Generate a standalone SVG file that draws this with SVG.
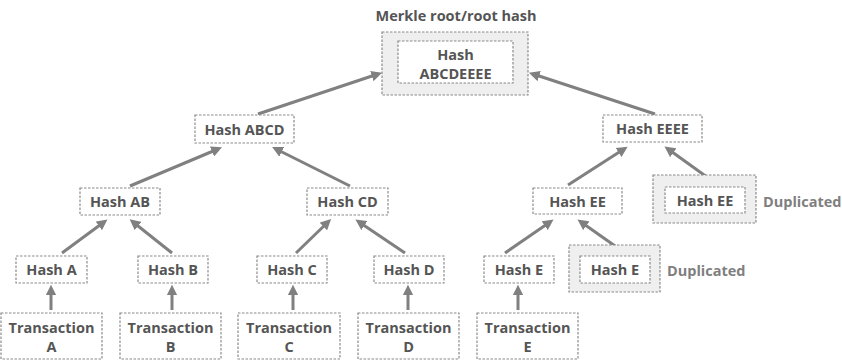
<svg xmlns="http://www.w3.org/2000/svg" width="842" height="364" viewBox="0 0 842 364">
<style>
.b{fill:#fff;stroke:#8a8a8a;stroke-width:1.2;stroke-dasharray:2.5 1.5}
.d{fill:#efefef;stroke:#8a8a8a;stroke-width:1.2;stroke-dasharray:2.5 1.5}
.t{font-family:"Open Sans","DejaVu Sans",sans-serif;font-weight:bold;font-size:14.5px;fill:#555;text-anchor:middle;dominant-baseline:central}
.g{font-family:"Open Sans","DejaVu Sans",sans-serif;font-weight:bold;font-size:14.5px;fill:#7f7f7f;dominant-baseline:central}
.c line{stroke:#808080;stroke-width:3;marker-end:url(#ah)}
</style>
<defs>
<marker id="ah" viewBox="0 0 10 10" refX="6" refY="5" markerWidth="3.6" markerHeight="3.6" orient="auto" markerUnits="strokeWidth">
<path d="M0,0 L10,5 L0,10 Z" fill="#808080"/>
</marker>
</defs>
<text class="t" x="456" y="15">Merkle root/root hash</text>
<g class="c">
<line x1="258" y1="114" x2="378" y2="74"/>
<line x1="655" y1="114" x2="533" y2="74"/>
<line x1="130" y1="186" x2="218" y2="149"/>
<line x1="350" y1="186" x2="276" y2="149"/>
<line x1="62" y1="253" x2="104" y2="222"/>
<line x1="172" y1="253" x2="133" y2="222"/>
<line x1="296" y1="253" x2="328" y2="222"/>
<line x1="405" y1="253" x2="359" y2="222"/>
<line x1="505" y1="253" x2="550" y2="222"/>
<line x1="625" y1="253" x2="581" y2="222"/>
<line x1="568" y1="185" x2="624" y2="149"/>
<line x1="718" y1="185" x2="668" y2="149"/>
<line x1="51" y1="310" x2="51" y2="289"/>
<line x1="172" y1="310" x2="172" y2="289"/>
<line x1="293" y1="310" x2="293" y2="289"/>
<line x1="408" y1="310" x2="408" y2="289"/>
<line x1="518" y1="310" x2="518" y2="289"/>
</g>
<g id="root">
<rect class="d" x="382" y="32" width="146" height="63"/>
<rect class="b" x="398" y="41" width="115" height="42"/>
<text class="t" x="455.5" y="54">Hash</text>
<text class="t" x="455.5" y="73">ABCDEEEE</text>
</g>
<g id="hashABCD"><rect class="b" x="195" y="115" width="99" height="28"/><text class="t" x="244.5" y="129">Hash ABCD</text></g>
<g id="hashEEEE"><rect class="b" x="603" y="115" width="99" height="27"/><text class="t" x="652.5" y="128.5">Hash EEEE</text></g>
<g id="hashAB"><rect class="b" x="80" y="188" width="80" height="27"/><text class="t" x="120" y="201.5">Hash AB</text></g>
<g id="hashCD"><rect class="b" x="307" y="188" width="81" height="27"/><text class="t" x="347.5" y="201.5">Hash CD</text></g>
<g id="hashEE"><rect class="b" x="533" y="188" width="89" height="26"/><text class="t" x="577.5" y="201">Hash EE</text></g>
<g id="hashEEdup">
<rect class="d" x="653" y="175" width="103" height="48"/>
<rect class="b" x="665" y="187" width="80" height="26"/>
<text class="t" x="705" y="200">Hash EE</text>
<text class="g" x="763" y="201">Duplicated</text>
</g>
<g id="hashA"><rect class="b" x="16" y="256" width="71" height="27"/><text class="t" x="51.5" y="269.5">Hash A</text></g>
<g id="hashB"><rect class="b" x="138" y="256" width="70" height="27"/><text class="t" x="173" y="269.5">Hash B</text></g>
<g id="hashC"><rect class="b" x="257" y="256" width="70" height="27"/><text class="t" x="292" y="269.5">Hash C</text></g>
<g id="hashD"><rect class="b" x="374" y="256" width="70" height="27"/><text class="t" x="409" y="269.5">Hash D</text></g>
<g id="hashE"><rect class="b" x="484" y="256" width="70" height="27"/><text class="t" x="519" y="269.5">Hash E</text></g>
<g id="hashEdup">
<rect class="d" x="569" y="245" width="91" height="47"/>
<rect class="b" x="580" y="256" width="70" height="27"/>
<text class="t" x="615" y="269.5">Hash E</text>
<text class="g" x="667" y="270">Duplicated</text>
</g>
<g id="txA"><rect class="b" x="1" y="313" width="101" height="46"/><text class="t" x="51.5" y="327">Transaction</text><text class="t" x="51.5" y="346">A</text></g>
<g id="txB"><rect class="b" x="120" y="313" width="101" height="46"/><text class="t" x="170.5" y="327">Transaction</text><text class="t" x="170.5" y="346">B</text></g>
<g id="txC"><rect class="b" x="238" y="313" width="102" height="46"/><text class="t" x="289" y="327">Transaction</text><text class="t" x="289" y="346">C</text></g>
<g id="txD"><rect class="b" x="358" y="313" width="101" height="46"/><text class="t" x="408.5" y="327">Transaction</text><text class="t" x="408.5" y="346">D</text></g>
<g id="txE"><rect class="b" x="477" y="313" width="101" height="46"/><text class="t" x="527.5" y="327">Transaction</text><text class="t" x="527.5" y="346">E</text></g>
</svg>
